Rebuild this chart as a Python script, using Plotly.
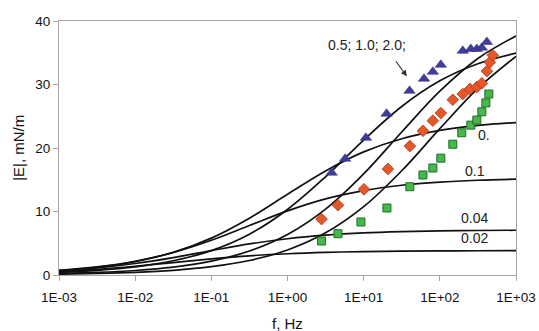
import plotly.graph_objects as go

# Frequency grid (Hz) at which the model curves are tabulated
freq = [1e-3, 3.16e-3, 1e-2, 3.16e-2, 0.1, 0.316, 1, 3.16, 10, 31.6, 100, 316, 1000]

# Model modulus |E| (mN/m) for each concentration
curve_002 = [0.55, 0.89, 1.38, 1.96, 2.54, 3.02, 3.35, 3.56, 3.68, 3.75, 3.80, 3.82, 3.83]
curve_004 = [0.66, 1.12, 1.81, 2.75, 3.84, 4.89, 5.71, 6.27, 6.62, 6.82, 6.94, 7.01, 7.05]
curve_01 = [0.74, 1.28, 2.17, 3.54, 5.47, 7.79, 10.10, 11.99, 13.30, 14.13, 14.63, 14.92, 15.09]
curve_02 = [0.70, 1.22, 2.11, 3.56, 5.81, 8.95, 12.71, 16.39, 19.39, 21.46, 22.77, 23.55, 24.00]
curve_05 = [0.41, 0.73, 1.28, 2.24, 3.84, 6.43, 10.32, 15.47, 21.25, 26.54, 30.58, 33.27, 34.93]
curve_10 = [0.23, 0.40, 0.71, 1.25, 2.18, 3.77, 6.38, 10.38, 15.93, 22.52, 28.94, 34.09, 37.65]
curve_20 = [0.13, 0.24, 0.42, 0.74, 1.31, 2.28, 3.94, 6.64, 10.76, 16.42, 23.04, 29.39, 34.43]
curves = [curve_002, curve_004, curve_01, curve_02, curve_05, curve_10, curve_20]

# Measured data
tri_f = [3.8, 5.7, 10.7, 20, 40, 62, 81, 103, 200, 255, 306, 356, 414]
tri_E = [16.1, 18.3, 21.6, 25.4, 29.0, 30.9, 32.0, 33.1, 35.3, 35.6, 35.6, 35.8, 36.7]

dia_f = [2.8, 4.6, 10.1, 20.8, 40.4, 60, 81, 103, 148, 200, 248, 306, 356, 414, 453, 496]
dia_E = [8.8, 11.0, 13.5, 16.7, 20.3, 22.7, 24.3, 25.5, 27.6, 28.5, 29.3, 29.6, 30.2, 32.1, 33.5, 34.6]

sq_f = [2.8, 4.6, 9.2, 20.2, 40.4, 60, 81, 103, 148, 194, 255, 306, 356, 402, 440]
sq_E = [5.35, 6.5, 8.35, 10.55, 13.9, 15.75, 16.85, 18.4, 20.6, 22.4, 23.6, 24.4, 25.7, 27.1, 28.5]

x_ticks = [1e-3, 1e-2, 1e-1, 1e0, 1e1, 1e2, 1e3]
x_tick_text = ["1E-03", "1E-02", "1E-01", "1E+00", "1E+01", "1E+02", "1E+03"]
y_ticks = [0, 10, 20, 30, 40]

FONT = "Liberation Sans, Arial, sans-serif"

fig = go.Figure()

for c in curves:
    fig.add_trace(go.Scatter(
        x=freq, y=c, mode="lines",
        line=dict(color="#111111", width=1.7, shape="spline", smoothing=1.0),
        hoverinfo="skip", showlegend=False,
    ))

fig.add_trace(go.Scatter(
    x=sq_f, y=sq_E, mode="markers",
    marker=dict(symbol="square", size=8, color="#46b84a",
                line=dict(color="#236b2c", width=1)),
    showlegend=False,
))
fig.add_trace(go.Scatter(
    x=dia_f, y=dia_E, mode="markers",
    marker=dict(symbol="diamond", size=9, color="#e4572a",
                line=dict(color="#b3361a", width=0.8)),
    showlegend=False,
))
fig.add_trace(go.Scatter(
    x=tri_f, y=tri_E, mode="markers",
    marker=dict(symbol="triangle-up", size=10, color="#3f3d99",
                line=dict(color="#2c2a7a", width=0.5)),
    showlegend=False,
))

label_font = dict(family=FONT, size=14, color="#222222")

labels = [
    ("0.02", 2.459, 5.8),
    ("0.04", 2.459, 9.0),
    ("0.1", 2.459, 16.4),
    ("0.", 2.577, 22.0),
    ("0.5; 1.0; 2.0;", 1.042, 36.2),
]
for text, lx, ly in labels:
    fig.add_annotation(x=lx, y=ly, text=text, showarrow=False, font=label_font,
                       xref="x", yref="y")

fig.add_annotation(
    x=1.567, y=31.3, ax=1.409, ay=33.9, xref="x", yref="y", axref="x", ayref="y",
    text="", showarrow=True, arrowhead=2, arrowsize=1, arrowwidth=1.2,
    arrowcolor="#333333",
)

tick_font = dict(family=FONT, size=13.5, color="#111111")
title_font = dict(family=FONT, size=15, color="#111111")

# Axis titles placed in paper coordinates
fig.add_annotation(x=0.5, y=-0.19, xref="paper", yref="paper", text="f, Hz",
                   showarrow=False, font=title_font, yanchor="middle")
fig.add_annotation(x=-0.09, y=0.5, xref="paper", yref="paper", text="|E|, mN/m",
                   showarrow=False, font=title_font, textangle=-90,
                   xanchor="center", yanchor="middle")

fig.update_xaxes(
    type="log", range=[-3, 3], tickvals=x_ticks, ticktext=x_tick_text,
    showgrid=False, zeroline=False, showline=True, linecolor="#a6a6a6",
    linewidth=1, mirror=True, ticks="outside", ticklen=5, tickcolor="#a6a6a6",
    tickfont=tick_font, ticklabelstandoff=5, automargin=False,
)
fig.update_yaxes(
    range=[0, 40], tickvals=y_ticks, showgrid=False, zeroline=False,
    showline=True, linecolor="#a6a6a6", linewidth=1, mirror=True,
    ticks="outside", ticklen=5, tickcolor="#a6a6a6", tickfont=tick_font,
    automargin=False,
)

fig.update_layout(
    width=539, height=331,
    margin=dict(l=59, r=23, t=21, b=56),
    paper_bgcolor="white", plot_bgcolor="white",
    font=tick_font,
)

fig.write_html("out.html")
